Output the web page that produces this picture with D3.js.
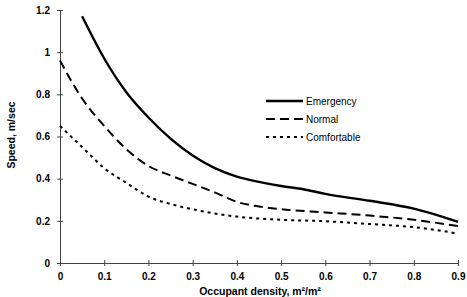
<!DOCTYPE html>
<html>
<head>
<meta charset="utf-8">
<script src="https://cdn.jsdelivr.net/npm/d3@7"></script>
<style>
  body { margin: 0; background: #fff; }
  svg { display: block; }
</style>
</head>
<body>
<div id="chart"></div>
<script>
// valores
const emergencyX = [0.05, 0.1, 0.15, 0.2, 0.25, 0.3, 0.35, 0.4, 0.45, 0.5, 0.55, 0.6, 0.7, 0.8, 0.9];
const emergencyY = [1.17, 0.97, 0.81, 0.69, 0.59, 0.51, 0.45, 0.41, 0.385, 0.365, 0.35, 0.328, 0.295, 0.258, 0.195];

const normalX = [0, 0.05, 0.1, 0.15, 0.2, 0.25, 0.3, 0.35, 0.4, 0.45, 0.5, 0.6, 0.7, 0.8, 0.9];
const normalY = [0.96, 0.78, 0.65, 0.54, 0.46, 0.415, 0.375, 0.335, 0.29, 0.268, 0.255, 0.24, 0.225, 0.205, 0.175];

const comfortX = [0, 0.05, 0.1, 0.15, 0.2, 0.25, 0.3, 0.35, 0.4, 0.5, 0.6, 0.7, 0.8, 0.9];
const comfortY = [0.65, 0.55, 0.45, 0.38, 0.315, 0.28, 0.255, 0.235, 0.22, 0.205, 0.198, 0.185, 0.17, 0.14];

const xTicks = [0, 0.1, 0.2, 0.3, 0.4, 0.5, 0.6, 0.7, 0.8, 0.9];
const yTicks = [0, 0.2, 0.4, 0.6, 0.8, 1, 1.2];

const seriesNames = ["Emergency", "Normal", "Comfortable"];

const width = 467, height = 297;
const margins = { top: 10, right: 9, bottom: 34, left: 60 };

const svg = d3.select("#chart").append("svg")
  .attr("width", width)
  .attr("height", height);

const xScale = d3.scaleLinear()
  .domain([0, 0.9])
  .range([margins.left, width - margins.right]);

const yScale = d3.scaleLinear()
  .domain([0, 1.2])
  .range([height - margins.bottom, margins.top]);

const font = "Liberation Sans, Arial, sans-serif";
const fmt = d => String(+d.toFixed(2));

// eixo x
const xAxis = svg.append("g")
  .attr("transform", `translate(0, ${yScale(0)})`)
  .call(d3.axisBottom(xScale).tickValues(xTicks).tickSize(3).tickSizeOuter(0).tickFormat(fmt));
xAxis.select(".domain").attr("stroke", "#444");
xAxis.selectAll(".tick line").attr("y1", -3).attr("stroke", "#444");
xAxis.selectAll(".tick text")
  .attr("y", 10)
  .attr("font-family", font)
  .attr("font-weight", "bold")
  .attr("font-size", "10px")
  .attr("fill", "#000");

// eixo y
const yAxis = svg.append("g")
  .attr("transform", `translate(${xScale(0)}, 0)`)
  .call(d3.axisLeft(yScale).tickValues(yTicks).tickSize(3).tickSizeOuter(0).tickFormat(fmt));
yAxis.select(".domain").attr("stroke", "#444");
yAxis.selectAll(".tick line").attr("x1", 3).attr("x2", -3).attr("stroke", "#444");
yAxis.selectAll(".tick text")
  .attr("x", -10)
  .attr("font-family", font)
  .attr("font-weight", "bold")
  .attr("font-size", "10px")
  .attr("fill", "#000");
svg.selectAll(".domain").attr("stroke-width", 1);

// titulos
svg.append("text")
  .attr("x", 260)
  .attr("y", 295)
  .attr("text-anchor", "middle")
  .attr("font-family", font)
  .attr("font-weight", "bold")
  .attr("font-size", "10.5px")
  .text("Occupant density, m²/m²");

svg.append("text")
  .attr("transform", "translate(15, 135) rotate(-90)")
  .attr("text-anchor", "middle")
  .attr("font-family", font)
  .attr("font-weight", "bold")
  .attr("font-size", "10.5px")
  .text("Speed, m/sec");

// linhas
const series = [
  { xs: emergencyX, ys: emergencyY, width: 2.4, dash: null },
  { xs: normalX, ys: normalY, width: 2, dash: "9,5" },
  { xs: comfortX, ys: comfortY, width: 2, dash: "3,4" }
];

const line = d3.line()
  .x(d => xScale(d[0]))
  .y(d => yScale(d[1]))
  .curve(d3.curveMonotoneX);

series.forEach(s => {
  svg.append("path")
    .datum(d3.zip(s.xs, s.ys))
    .attr("fill", "none")
    .attr("stroke", "#000")
    .attr("stroke-width", s.width)
    .attr("stroke-dasharray", s.dash)
    .attr("d", line);
});

// legenda
const legend = svg.append("g").attr("transform", "translate(266, 101)");
seriesNames.forEach((name, i) => {
  const s = series[i];
  legend.append("line")
    .attr("x1", 0).attr("x2", 37)
    .attr("y1", i * 18).attr("y2", i * 18)
    .attr("stroke", "#000")
    .attr("stroke-width", s.width)
    .attr("stroke-dasharray", s.dash);
  legend.append("text")
    .attr("x", 40)
    .attr("y", i * 18)
    .attr("dy", "0.35em")
    .attr("font-family", font)
    .attr("font-size", "10px")
    .text(name);
});
</script>
</body>
</html>
